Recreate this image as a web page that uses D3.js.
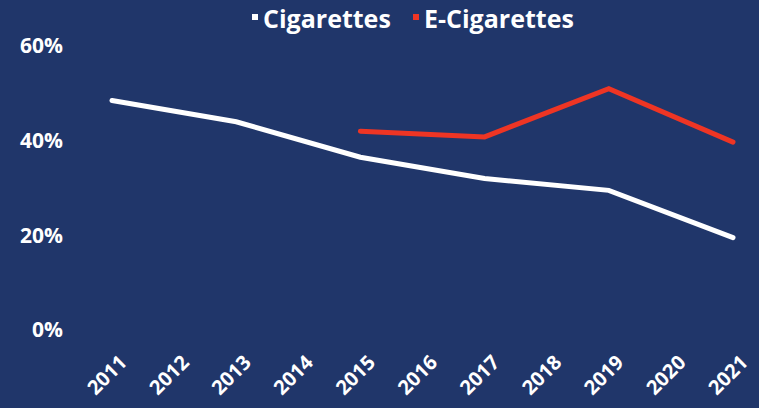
<!DOCTYPE html>
<html lang="en">
<head>
    <meta charset="UTF-8">
    <title>Cigarettes vs E-Cigarettes</title>
    <script src="https://cdn.jsdelivr.net/npm/d3@7"></script>
    <style>
        body { margin: 0; background: #20366a; }
        text { font-family: "Open Sans", sans-serif; font-weight: 700; fill: #fff; }
    </style>
</head>
<body>
<div id="chart"></div>
<script>
    const years = ["2011","2012","2013","2014","2015","2016","2017","2018","2019","2020","2021"];
    const cigYears = ["2011","2013","2015","2017","2019","2021"];
    const cigValues = [48.5, 44, 36.5, 32, 29.5, 19.5];
    const ecigYears = ["2015","2017","2019","2021"];
    const ecigValues = [42, 40.8, 51, 39.7];
    const yTicks = [0, 20, 40, 60];

    const width = 759, height = 408;

    const svg = d3.select("#chart").append("svg")
        .attr("width", width)
        .attr("height", height);

    svg.append("rect").attr("width", width).attr("height", height).attr("fill", "#20366a");

    const x = d3.scalePoint().domain(years).range([112, 733]);
    const y = d3.scaleLinear().domain([0, 60]).range([330, 46]);

    // y labels
    svg.append("g").selectAll("text")
        .data(yTicks).enter().append("text")
        .attr("x", 63)
        .attr("y", d => y(d))
        .attr("dy", "0.35em")
        .attr("text-anchor", "end")
        .style("font-size", "21px")
        .text(d => d + "%");

    // x labels, rotated and centred under each year
    svg.append("g").selectAll("text")
        .data(years).enter().append("text")
        .attr("transform", d => `translate(${x(d) - 5},${375}) rotate(-45)`)
        .attr("text-anchor", "middle")
        .attr("dy", "0.35em")
        .style("font-size", "20px")
        .text(d => d);

    const line = d3.line().x(d => x(d[0])).y(d => y(d[1]));

    svg.append("path")
        .datum(d3.zip(cigYears, cigValues))
        .attr("d", line)
        .attr("fill", "none")
        .attr("stroke", "#fff")
        .attr("stroke-width", 5)
        .attr("stroke-linecap", "round");

    svg.append("path")
        .datum(d3.zip(ecigYears, ecigValues))
        .attr("d", line)
        .attr("fill", "none")
        .attr("stroke", "#ee3524")
        .attr("stroke-width", 5)
        .attr("stroke-linecap", "round");

    // legend
    const legend = [
        {name: "Cigarettes", color: "#fff", x: 252},
        {name: "E-Cigarettes", color: "#ee3524", x: 413}
    ];
    const lg = svg.append("g").selectAll("g").data(legend).enter().append("g")
        .attr("transform", d => `translate(${d.x},0)`);
    lg.append("rect").attr("x", 0).attr("y", 14).attr("width", 6).attr("height", 6)
        .attr("fill", d => d.color);
    lg.append("text").attr("x", 11).attr("y", 28)
        .style("font-size", "25px")
        .text(d => d.name);
</script>
</body>
</html>
